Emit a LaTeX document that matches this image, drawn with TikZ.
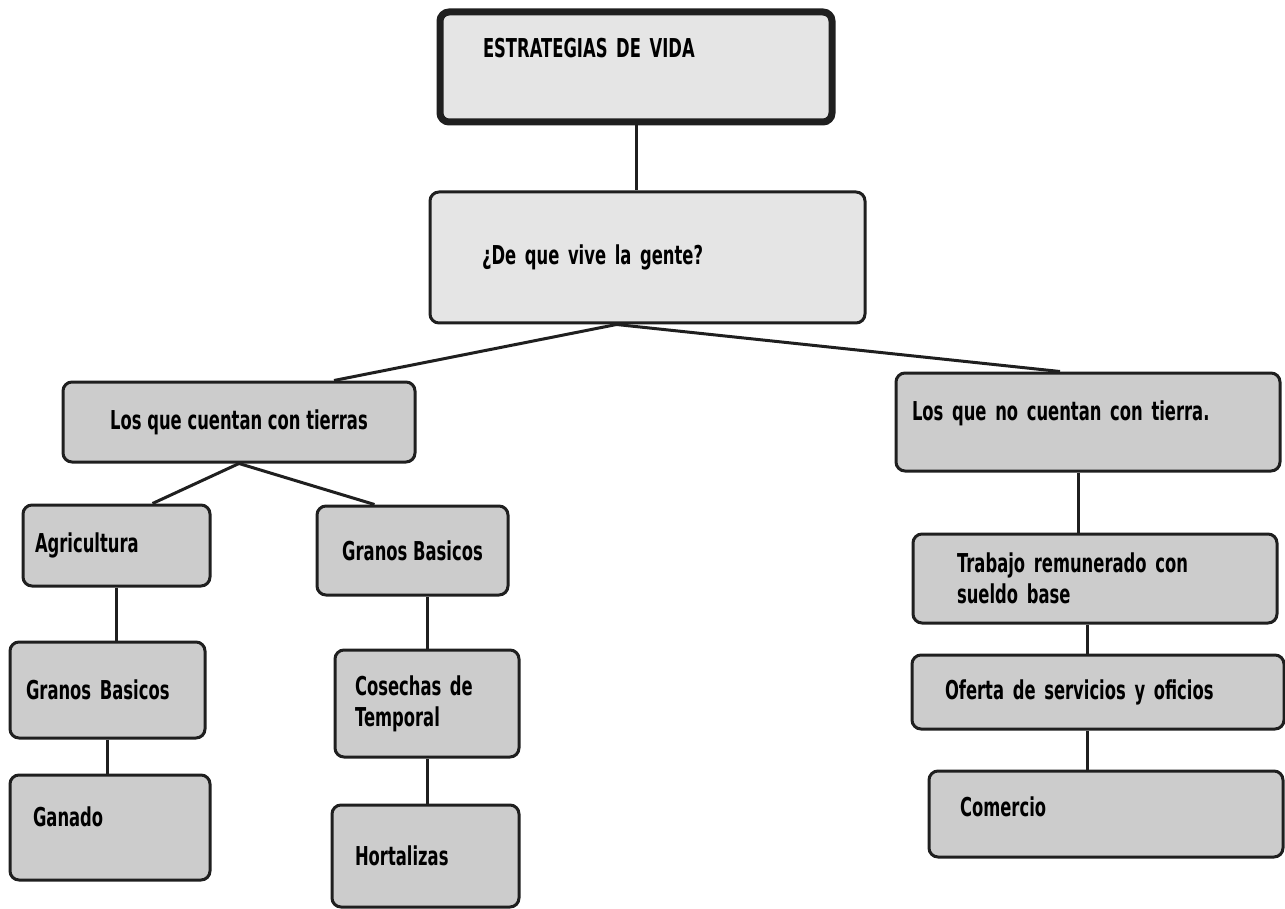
\documentclass[tikz,border=0pt]{standalone}
\usepackage{fontspec}
\newfontfamily\cajafont[FakeStretch=0.63]{DejaVu Sans}

\begin{document}
\begin{tikzpicture}[x=1pt, y=-1pt,
    caja/.style={draw=black!88, line width=3pt, rounded corners=9pt, fill=black!20,
	align=left, font=\cajafont\bfseries\fontsize{26}{31}\selectfont},
    clara/.style={caja, fill=black!10},
    linea/.style={draw=black!88, line width=3pt}]
    \useasboundingbox (0, 0) rectangle (1285, 909);
    \node[clara, line width=7pt, minimum width=392pt, minimum height=110pt,
	text width=306pt, text depth=38pt] (vida) at (636, 67) {ESTRATEGIAS DE VIDA};
    \node[clara, minimum width=435pt, minimum height=131pt, text width=331pt]
	(gente) at (647.5, 257.5) {¿De que vive la gente?};
    \node[caja, align=center, minimum width=352pt, minimum height=80pt]
	(tierras) at (239, 422) {Los que cuentan con tierras};
    \node[caja, minimum width=187pt, minimum height=81pt, text width=163pt]
	(agri) at (116.5, 545.5) {Agricultura};
    \node[caja, minimum width=195pt, minimum height=96pt, text width=163pt]
	(granosA) at (107.5, 690) {Granos Basicos};
    \node[caja, minimum width=200pt, minimum height=105pt, text width=154pt, text depth=21pt]
	(ganado) at (110, 827.5) {Ganado};
    \node[caja, align=center, minimum width=191pt, minimum height=89pt]
	(granosB) at (412.5, 550.5) {Granos Basicos};
    \node[caja, minimum width=184pt, minimum height=107pt, text width=144pt]
	(cosechas) at (427, 703.5) {Cosechas de\\Temporal};
    \node[caja, minimum width=187pt, minimum height=102pt, text width=141pt]
	(hortalizas) at (425.5, 856) {Hortalizas};
    \node[caja, minimum width=384pt, minimum height=98pt, text width=352pt, text depth=23pt]
	(sintierra) at (1088, 422) {Los que no cuentan con tierra.};
    \node[caja, minimum width=364pt, minimum height=89pt, text width=276pt]
	(trabajo) at (1095, 578.5) {Trabajo remunerado con\\sueldo base};
    \node[caja, minimum width=372pt, minimum height=74pt, text width=306pt]
	(oferta) at (1098, 692) {Oferta de servicios y oficios};
    \node[caja, minimum width=354pt, minimum height=86pt, text width=292pt, text depth=14pt]
	(comercio) at (1106, 814) {Comercio};
    \draw[linea] (vida.south) -- (vida.south |- gente.north);
    \draw[linea] ([xshift=95pt]tierras.north) -- ([xshift=-31pt]gente.south)
	-- ([xshift=-28pt]sintierra.north);
    \draw[linea] ([xshift=36pt]agri.north) -- (tierras.south)
	-- ([xshift=-38pt]granosB.north);
    \draw[linea] (agri.south) -- (agri.south |- granosA.north);
    \draw[linea] (granosA.south) -- (granosA.south |- ganado.north);
    \draw[linea] (cosechas.north) -- (cosechas.north |- granosB.south);
    \draw[linea] (cosechas.south) -- (cosechas.south |- hortalizas.north);
    \draw[linea] ([xshift=-10pt]sintierra.south) -- ([xshift=-10pt]sintierra.south |- trabajo.north);
    \draw[linea] ([xshift=-8pt]trabajo.south) -- ([xshift=-8pt]trabajo.south |- oferta.north);
    \draw[linea] ([xshift=-11pt]oferta.south) -- ([xshift=-11pt]oferta.south |- comercio.north);
\end{tikzpicture}
\end{document}
